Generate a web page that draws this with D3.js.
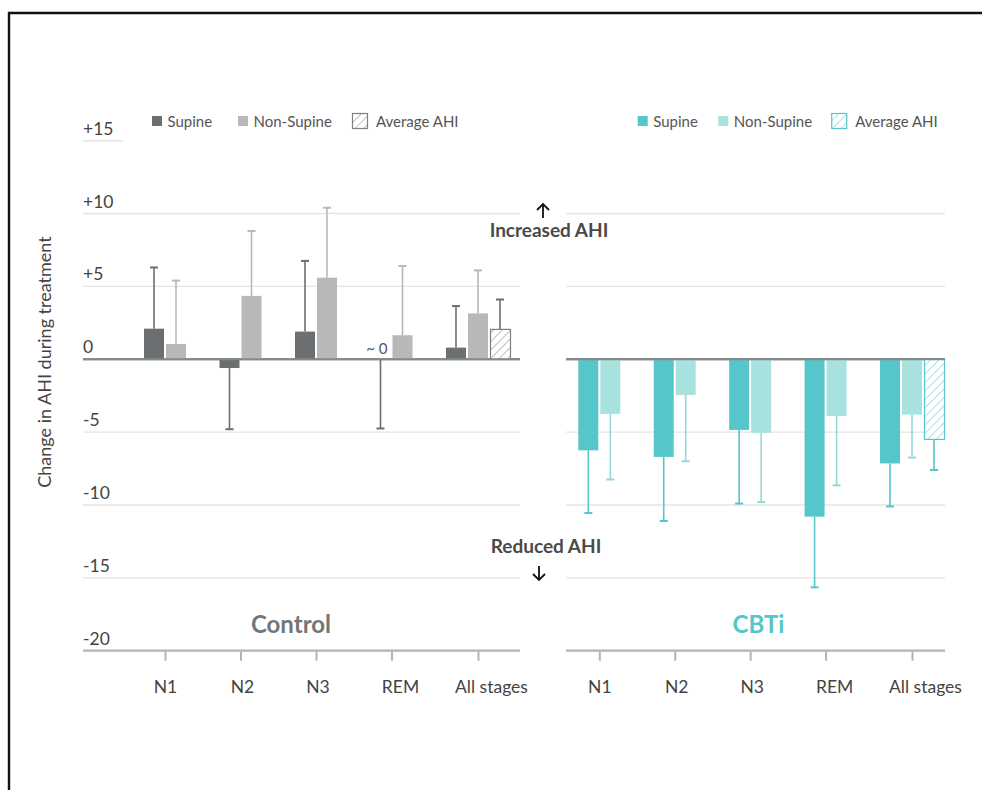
<!DOCTYPE html>
<html><head><meta charset="utf-8">
<script src="https://cdn.jsdelivr.net/npm/d3@7"></script>
<style>
html,body{margin:0;padding:0;background:#fff;}
svg{display:block;font-family:Lato,"Open Sans",sans-serif;}
</style></head>
<body><svg id="chart" width="982" height="790"></svg>
<script>
// ---- data ----
const categories = ["N1", "N2", "N3", "REM", "All stages"];
const yTicks = [15, 10, 5, 0, -5, -10, -15, -20];
const yTickLabels = ["+15", "+10", "+5", "0", "-5", "-10", "-15", "-20"];

const controlSupine = [2.1, -0.6, 1.9, 0, 0.8];
const controlSupineErr = [6.3, -4.8, 6.75, -4.75, 3.65];
const controlNonSupine = [1.05, 4.35, 5.6, 1.65, 3.15];
const controlNonSupineErr = [5.4, 8.8, 10.4, 6.4, 6.1];
const controlAverage = [2.05];
const controlAverageErr = [4.1];

const cbtiSupine = [-6.25, -6.7, -4.85, -10.8, -7.15];
const cbtiSupineErr = [-10.55, -11.1, -9.9, -15.65, -10.1];
const cbtiNonSupine = [-3.75, -2.45, -5.05, -3.9, -3.8];
const cbtiNonSupineErr = [-8.25, -7.0, -9.8, -8.65, -6.75];
const cbtiAverage = [-5.5];
const cbtiAverageErr = [-7.6];

const legendLabels = ["Supine", "Non-Supine", "Average AHI"];

// ---- layout ----
const svg = d3.select("#chart");
const y = d3.scaleLinear().domain([-20, 15]).range([650.7, 140.7]);

// frame
svg.append("path").attr("d", "M9,790 V13 H982").attr("fill", "none")
  .attr("stroke", "#111").attr("stroke-width", 2.4);

const panels = [
  {name: "Control", title: "Control", titleColor: "#737678",
   supine: controlSupine, supineErr: controlSupineErr,
   non: controlNonSupine, nonErr: controlNonSupineErr,
   avg: controlAverage, avgErr: controlAverageErr,
   c1: "#6c6f71", c2: "#b7b8b7", e1: "#6c6f71", e2: "#b7b8b7", hatch: "#7d7f80",
   x0: 83, x1: 520, firstBar: 144, lastBar: 446, titleX: 291,
   legendX: 152, legOffsets: [0, 86, 200], showYLabels: true, shortTop: true},
  {name: "CBTi", title: "CBTi", titleColor: "#55c6c9",
   supine: cbtiSupine, supineErr: cbtiSupineErr,
   non: cbtiNonSupine, nonErr: cbtiNonSupineErr,
   avg: cbtiAverage, avgErr: cbtiAverageErr,
   c1: "#55c6c9", c2: "#a8e2df", e1: "#55c6c9", e2: "#93dad7", hatch: "#55c6c9",
   x0: 566, x1: 945, firstBar: 578.3, lastBar: 880, titleX: 758.5,
   legendX: 637.7, legOffsets: [0, 80.6, 193.5], showYLabels: false, shortTop: false}
];

const defs = svg.append("defs");
const barW = 20, barStep = 22;
const labelShift = {"N1": 0, "N2": 1.5, "N3": 1.5, "REM": 8.5, "All stages": 13};

panels.forEach((p, pi) => {
  // hatch pattern
  const pat = defs.append("pattern").attr("id", "hatch" + pi)
    .attr("patternUnits", "userSpaceOnUse").attr("width", 6).attr("height", 6)
    .attr("patternTransform", "rotate(45)");
  pat.append("rect").attr("width", 6).attr("height", 6).attr("fill", "#fff");
  pat.append("line").attr("x1", 0).attr("y1", 0).attr("x2", 0).attr("y2", 6)
    .attr("stroke", p.hatch).attr("stroke-width", 1);

  const g = svg.append("g");
  // gridlines
  yTicks.forEach((t, i) => {
    if (t === 15 && !p.shortTop) return;
    const isZero = t === 0, isBottom = t === -20;
    g.append("line")
      .attr("x1", p.x0).attr("x2", (t === 15) ? p.x0 + 40 : p.x1)
      .attr("y1", y(t)).attr("y2", y(t))
      .attr("stroke", isZero ? "#858789" : (isBottom ? "#b2b3b3" : "#e4e4e4"))
      .attr("stroke-width", isZero ? 2.2 : (isBottom ? 2.2 : 1.4));
    if (p.showYLabels) {
      g.append("text").attr("x", p.x0).attr("y", y(t) - 6)
        .attr("font-size", 17.5).attr("fill", "#444").text(yTickLabels[i]);
    }
  });

  // group positions
  const gx = d3.scalePoint().domain(categories).range([p.firstBar, p.lastBar]);
  const nBars = c => (c === "All stages" ? 3 : 2);
  const centers = categories.map(c => gx(c) + (nBars(c) * barStep - 2) / 2);
  const xAxisScale = d3.scaleOrdinal().domain(categories).range(centers);

  // x axis ticks
  const ax = g.append("g").attr("transform", `translate(0,${y(-20) + 1})`)
    .call(d3.axisBottom(xAxisScale).tickSize(9).tickPadding(20));
  ax.select(".domain").remove();
  ax.selectAll(".tick line").attr("stroke", "#b2b3b3").attr("stroke-width", 2);
  ax.selectAll(".tick text").attr("font-size", 17.5).attr("fill", "#444")
    .attr("font-family", "Lato, sans-serif")
    .attr("dx", d => labelShift[d]);

  // bars
  const series = [];
  categories.forEach((c, i) => {
    series.push({c, k: 0, v: p.supine[i], e: p.supineErr[i], fill: p.c1, err: p.e1});
    series.push({c, k: 1, v: p.non[i], e: p.nonErr[i], fill: p.c2, err: p.e2});
    if (c === "All stages") series.push({c, k: 2, v: p.avg[0], e: p.avgErr[0], fill: `url(#hatch${pi})`, err: p.e1, hatched: true});
  });

  series.forEach(d => {
    const bx = gx(d.c) + d.k * barStep;
    const cx = bx + barW / 2;
    // error bar
    g.append("line").attr("x1", cx).attr("x2", cx).attr("y1", y(d.v)).attr("y2", y(d.e))
      .attr("stroke", d.err).attr("stroke-width", 1.6);
    g.append("line").attr("x1", cx - 4).attr("x2", cx + 4).attr("y1", y(d.e)).attr("y2", y(d.e))
      .attr("stroke", d.err).attr("stroke-width", 2);
    if (d.v !== 0) {
      const top = Math.min(y(d.v), y(0)), h = Math.abs(y(d.v) - y(0));
      g.append("rect").attr("x", bx + (d.hatched ? 0.5 : 0)).attr("y", top)
        .attr("width", barW).attr("height", h)
        .attr("fill", d.fill)
        .attr("stroke", d.hatched ? p.hatch : "none").attr("stroke-width", d.hatched ? 1.2 : 0);
    } else if (pi === 0) {
      g.append("text").attr("x", cx + 7).attr("y", y(0) - 5).attr("text-anchor", "end")
        .attr("font-size", 15).attr("fill", "#555").text("~ 0");
    }
  });
  // redraw zero line on top
  g.append("line").attr("x1", p.x0).attr("x2", p.x1).attr("y1", y(0)).attr("y2", y(0))
    .attr("stroke", "#858789").attr("stroke-width", 2.2);

  // panel title
  g.append("text").attr("x", p.titleX).attr("y", 633).attr("text-anchor", "middle")
    .attr("font-size", 24).attr("font-weight", "bold").attr("fill", p.titleColor).text(p.title);

  // legend
  const lg = g.append("g").attr("transform", `translate(${p.legendX},0)`);
  legendLabels.forEach((lab, i) => {
    const lx = p.legOffsets[i];
    if (i < 2) {
      lg.append("rect").attr("x", lx).attr("y", 116).attr("width", 10).attr("height", 10)
        .attr("fill", i === 0 ? p.c1 : p.c2);
      lg.append("text").attr("x", lx + 15.5).attr("y", 126.5).attr("font-size", 15)
        .attr("fill", "#555").text(lab);
    } else {
      lg.append("rect").attr("x", lx + 0.5).attr("y", 113.5).attr("width", 15).attr("height", 15)
        .attr("fill", `url(#hatch${pi})`).attr("stroke", p.hatch).attr("stroke-width", 1.2);
      lg.append("text").attr("x", lx + 24).attr("y", 126.5).attr("font-size", 15)
        .attr("fill", "#555").text(lab);
    }
  });
});

// y axis title
svg.append("text").attr("transform", "translate(51,362) rotate(-90)")
  .attr("text-anchor", "middle").attr("font-size", 18).attr("fill", "#444")
  .text("Change in AHI during treatment");

// annotations
svg.append("text").attr("x", 549).attr("y", 237).attr("text-anchor", "middle")
  .attr("font-size", 19).attr("font-weight", "bold").attr("fill", "#4a4a4a").text("Increased AHI");
svg.append("text").attr("x", 546).attr("y", 553).attr("text-anchor", "middle")
  .attr("font-size", 19).attr("font-weight", "bold").attr("fill", "#4a4a4a").text("Reduced AHI");
// arrows
svg.append("path").attr("d", "M543,218 V204 M537,210 L543,204 L549,210")
  .attr("fill", "none").attr("stroke", "#111").attr("stroke-width", 1.8);
svg.append("path").attr("d", "M539,566 V580 M533,574 L539,580 L545,574")
  .attr("fill", "none").attr("stroke", "#111").attr("stroke-width", 1.8);
</script>
</body></html>
